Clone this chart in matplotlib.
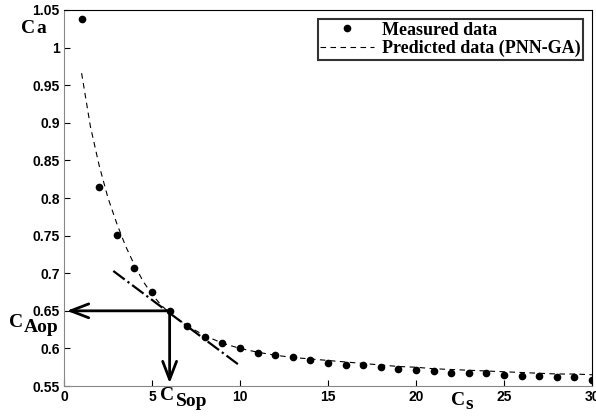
import numpy as np
import matplotlib.pyplot as plt

cs_meas = list(range(1, 31))
ca_meas = [1.038, 0.815, 0.751, 0.707, 0.675, 0.650, 0.630, 0.615, 0.607, 0.600,
           0.594, 0.591, 0.588, 0.584, 0.580, 0.578, 0.578, 0.575, 0.573, 0.572,
           0.570, 0.567, 0.567, 0.567, 0.565, 0.563, 0.563, 0.562, 0.562, 0.558]

# PNN-GA prediction
cs_pred = [1, 1.5, 2, 2.5, 3, 3.5, 4, 4.5, 5, 5.5, 6, 7, 8, 9, 10, 11, 12, 13, 14, 15,
           16, 17, 18, 19, 20, 21, 22, 23, 24, 25, 26, 27, 28, 29, 30]
ca_pred = [0.966, 0.895, 0.843, 0.800, 0.766, 0.736, 0.711, 0.689, 0.672, 0.658, 0.647,
           0.630, 0.617, 0.607, 0.600, 0.595, 0.591, 0.588, 0.586, 0.584, 0.582,
           0.580, 0.578, 0.576, 0.575, 0.573, 0.572, 0.571, 0.570, 0.569, 0.568,
           0.567, 0.566, 0.566, 0.565]

# tangent line and optimum point
tan_x = [2.8, 10.0]
tan_y = [0.703, 0.577]
cs_op = 6.0
ca_op = 0.65

fig = plt.figure(figsize=(5.96, 4.16), dpi=100)
ax = fig.add_axes([0.1074, 0.072, 0.886, 0.904])

ax.plot(cs_meas, ca_meas, 'k.', markersize=9, label='Measured data')
ax.plot(cs_pred, ca_pred, 'k--', linewidth=0.8, dashes=(5, 4), label='Predicted data (PNN-GA)')
ax.plot(tan_x, tan_y, 'k-.', linewidth=1.6)

arrow = dict(arrowstyle='->,head_length=1.3,head_width=0.5', color='k', lw=2)
ax.annotate('', xy=(0, ca_op), xytext=(cs_op, ca_op), arrowprops=arrow)
ax.annotate('', xy=(cs_op, 0.55), xytext=(cs_op, ca_op), arrowprops=arrow)

ax.set_xlim(0, 30)
ax.set_ylim(0.55, 1.05)
ax.set_xticks(np.arange(0, 31, 5))
ax.set_yticks(np.arange(0.55, 1.051, 0.05))
ax.set_xticklabels([str(v) for v in range(0, 31, 5)])
ax.set_yticklabels(['0.55', '0.6', '0.65', '0.7', '0.75', '0.8', '0.85', '0.9', '0.95', '1', '1.05'])
ax.tick_params(direction='in', length=4, labelsize=10, pad=3)
for lab in ax.get_xticklabels() + ax.get_yticklabels():
    lab.set_fontfamily('Liberation Sans')
    lab.set_fontweight('bold')
for side in ['left', 'bottom']:
    ax.spines[side].set_color('#888888')

serif = dict(family='Liberation Serif', weight='bold', color='k', fontsize=14)
tr = fig.transFigure
W, H = 596, 416
# axis labels drawn as C + subscript
fig.text(21 / W, 1 - 33 / H, 'C', transform=tr, **serif)
fig.text(36 / W, 1 - 33 / H, 'a', transform=tr, **serif)
fig.text(451 / W, 1 - 405 / H, 'C', transform=tr, **serif)
fig.text(465 / W, 1 - 409 / H, 's', transform=tr, **serif)
fig.text(9 / W, 1 - 327 / H, 'C', transform=tr, **serif)
fig.text(24 / W, 1 - 332 / H, 'Aop', transform=tr, **serif)
fig.text(160 / W, 1 - 400 / H, 'C', transform=tr, **serif)
fig.text(176 / W, 1 - 406 / H, 'Sop', transform=tr, **serif)

leg = ax.legend(loc='upper right', prop=dict(family='Liberation Serif', weight='bold', size=13),
                frameon=True, fancybox=False, edgecolor='k', handlelength=3.0,
                borderpad=0.15, labelspacing=0.05, borderaxespad=0.5, handletextpad=0.4)
leg.get_frame().set_linewidth(1.5)

fig.savefig('out.png', dpi=100)
